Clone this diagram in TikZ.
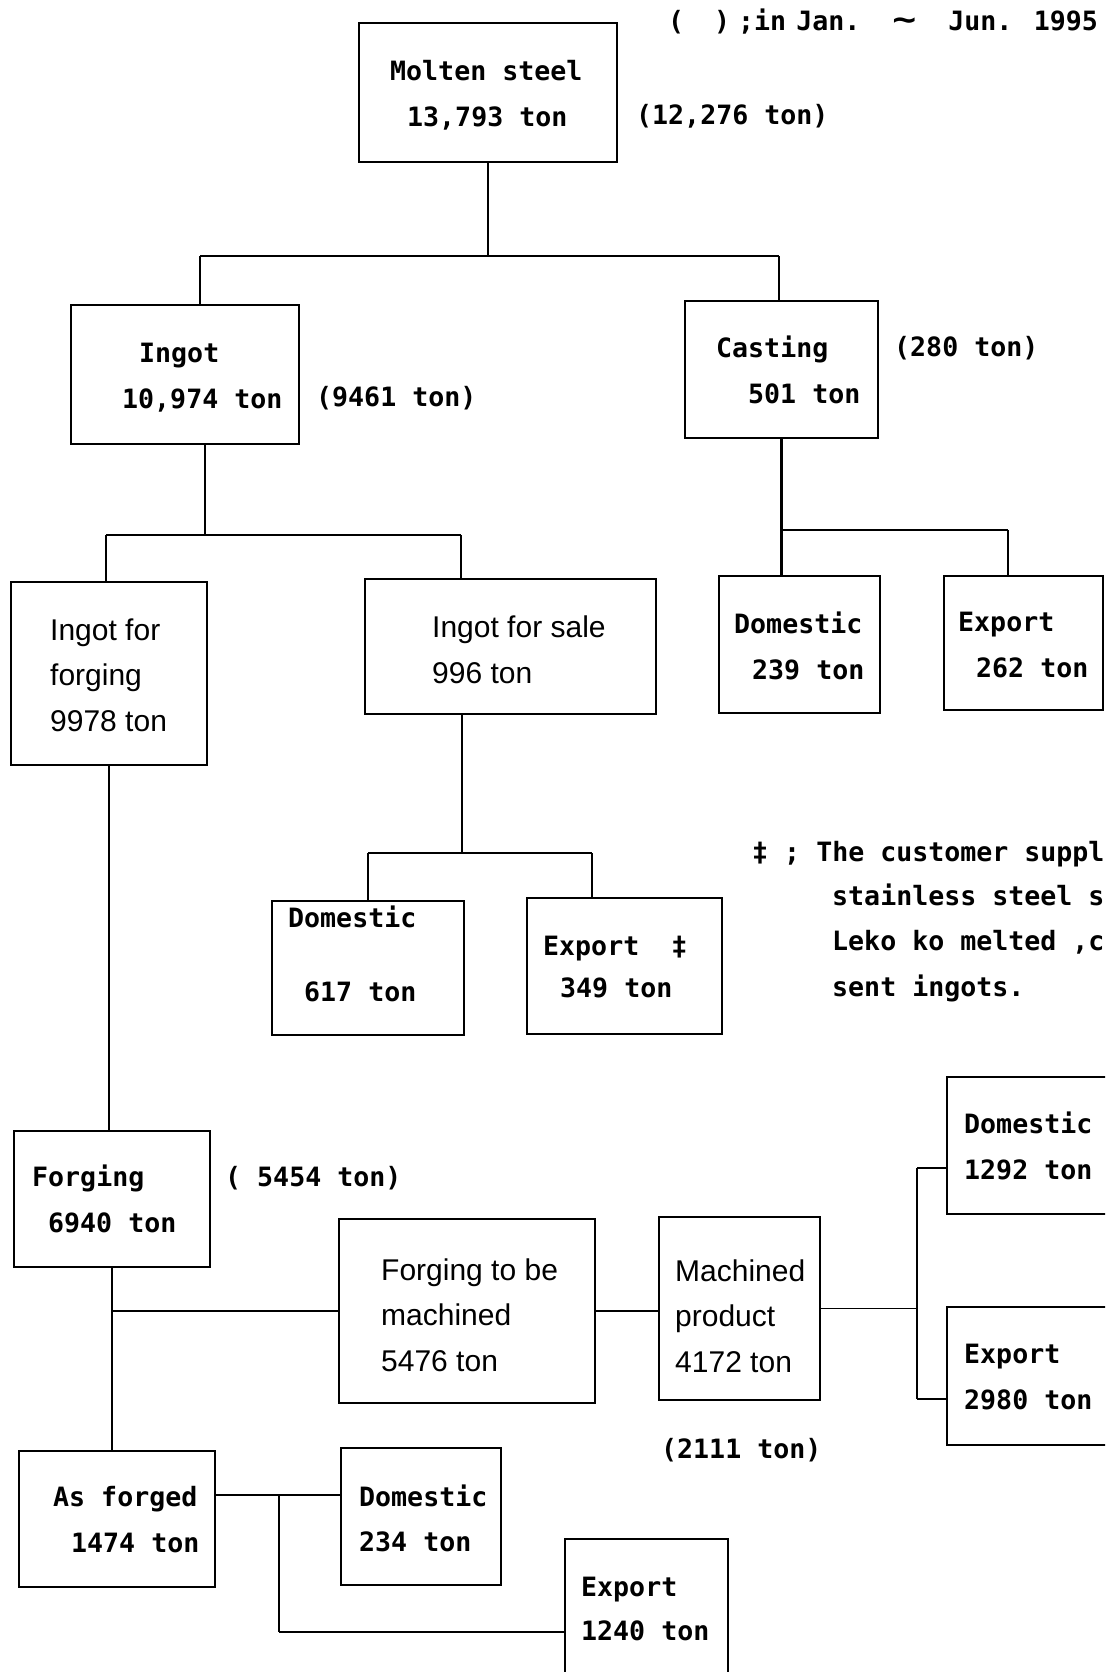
\documentclass[tikz,border=0pt]{standalone}
\usepackage{fontspec}
\usepackage{graphicx}
\usetikzlibrary{fit}
\newfontfamily\typefont{DejaVu Sans Mono}
\newfontfamily\printfont{Liberation Sans}
\tikzset{
  x=1pt, y=-1pt,
  box/.style={draw, line width=2.4pt, inner sep=0pt, rectangle},
  link/.style={line width=2.4pt},
  thin link/.style={line width=1.5pt},
  mono/.style={anchor=base west, inner sep=0pt, font=\typefont\bfseries\fontsize{26.6}{30}\selectfont},
  sans/.style={anchor=base west, inner sep=0pt, font=\printfont\fontsize{30}{36}\selectfont},
}
\begin{document}
\begin{tikzpicture}
\useasboundingbox (0,0) rectangle (1105,1672);
\clip (0,0) rectangle (1105,1672);
\fill[white] (0,0) rectangle (1105,1672);

% ---- boxes ----
\node[box, fit={(359,23) (617,162)}] (molten) {};
\node[box, fit={(71,305) (299,444)}] (ingot) {};
\node[box, fit={(685,301) (878,438)}] (casting) {};
\node[box, fit={(11,582) (207,765)}] (iforge) {};
\node[box, fit={(365,579) (656,714)}] (isale) {};
\node[box, fit={(719,576) (880,713)}] (cdom) {};
\node[box, fit={(944,576) (1103,710)}] (cexp) {};
\node[box, fit={(272,901) (464,1035)}] (sdom) {};
\node[box, fit={(527,898) (722,1034)}] (sexp) {};
\node[box, fit={(14,1131) (210,1267)}] (forging) {};
\node[box, fit={(339,1219) (595,1403)}] (tomach) {};
\node[box, fit={(659,1217) (820,1400)}] (mach) {};
\node[box, fit={(947,1077) (1130,1214)}] (mdom) {};
\node[box, fit={(947,1307) (1130,1445)}] (mexp) {};
\node[box, fit={(19,1451) (215,1587)}] (asf) {};
\node[box, fit={(341,1448) (501,1585)}] (adom) {};
\node[box, fit={(565,1539) (728,1700)}] (aexp) {};

% ---- connectors ----
\coordinate (j-top) at (488,256);
\coordinate (j-ingot) at (200,256);
\coordinate (j-cast) at (779,256);
\draw[link] (molten.south) -- (j-top);
\draw[thin link] (j-ingot) -- (j-cast);
\draw[link] (j-ingot) -- (j-ingot |- ingot.north);
\draw[link] (j-cast) -- (j-cast |- casting.north);

\coordinate (j-ingot-out) at (205,535);
\coordinate (j-iforge) at (106,535);
\coordinate (j-isale) at (461,535);
\draw[link] (j-ingot-out |- ingot.south) -- (j-ingot-out);
\draw[thin link] (j-iforge) -- (j-isale);
\draw[link] (j-iforge) -- (j-iforge |- iforge.north);
\draw[link] (j-isale) -- (j-isale |- isale.north);

\coordinate (j-cexp) at (1008,530);
\draw[link] (casting.south) -- (casting.south |- cdom.north);
\draw[thin link] (casting.south |- j-cexp) -- (j-cexp);
\draw[link] (j-cexp) -- (j-cexp |- cexp.north);

\coordinate (j-isale-out) at (462,853);
\coordinate (j-sdom) at (368,853);
\coordinate (j-sexp) at (592,853);
\draw[link] (j-isale-out |- isale.south) -- (j-isale-out);
\draw[thin link] (j-sdom) -- (j-sexp);
\draw[link] (j-sdom) -- (j-sdom |- sdom.north);
\draw[link] (j-sexp) -- (j-sexp |- sexp.north);

\draw[link] (iforge.south) -- (iforge.south |- forging.north);
\draw[link] (forging.south) -- (forging.south |- asf.north);
\draw[thin link] (forging.south |- tomach.west) -- (tomach.west);
\draw[thin link] (tomach.east) -- (tomach.east -| mach.west);

\coordinate (j-mach) at (917,1308);
\coordinate (j-mdom) at (917,1168);
\coordinate (j-mexp) at (917,1399);
\draw[thin link] (mach.east) -- (mach.east -| j-mach);
\draw[link] (j-mdom) -- (j-mexp);
\draw[thin link] (j-mdom) -- (j-mdom -| mdom.west);
\draw[thin link] (j-mexp) -- (j-mexp -| mexp.west);

\coordinate (j-adom) at (279,1495);
\coordinate (j-aexp) at (279,1632);
\draw[thin link] (j-adom -| asf.east) -- (j-adom -| adom.west);
\draw[link] (j-adom) -- (j-aexp);
\draw[thin link] (j-aexp) -- (j-aexp -| aexp.west);

% ---- texts ----
\node[mono] (t-head) at (668,31) {(\hspace{30pt})\hspace{8pt};in\hspace{10pt}Jan.\ \ \scalebox{1.5}[1.2]{\textasciitilde}\ \ Jun. 1995};
\node[mono] (t-molten-a) at (390,81) {Molten steel};
\node[mono] (t-molten-b) at (407,127) {13,793 ton};
\node[mono] (t-molten-c) at (636,125) {(12,276 ton)};

\node[mono] (t-ingot-a) at (139,362) {Ingot};
\node[mono] (t-ingot-b) at (122,408) {10,974 ton};
\node[mono] (t-ingot-c) at (316,406) {(9461 ton)};

\node[mono] (t-cast-a) at (716,357) {Casting};
\node[mono] (t-cast-b) at (748,403) {501 ton};
\node[mono] (t-cast-c) at (894,356) {(280 ton)};

\node[sans] (t-iforge-a) at (50,640) {Ingot for};
\node[sans] (t-iforge-b) at (50,685) {forging};
\node[sans] (t-iforge-c) at (50,731) {9978 ton};

\node[sans] (t-isale-a) at (432,637) {Ingot for sale};
\node[sans] (t-isale-b) at (432,683) {996 ton};

\node[mono] (t-cdom-a) at (734,633) {Domestic};
\node[mono] (t-cdom-b) at (752,679) {239 ton};
\node[mono] (t-cexp-a) at (958,631) {Export};
\node[mono] (t-cexp-b) at (976,677) {262 ton};

\node[mono] (t-sdom-a) at (288,927) {Domestic};
\node[mono] (t-sdom-b) at (304,1001) {617 ton};
\node[mono] (t-sexp-a) at (543,955) {Export\ \ ‡};
\node[mono] (t-sexp-b) at (560,997) {349 ton};

\node[mono] (t-note-a) at (752,861) {‡ ; The customer suppl};
\node[mono] (t-note-b) at (832,905) {stainless steel s};
\node[mono] (t-note-c) at (832,950) {Leko ko melted ,c};
\node[mono] (t-note-d) at (832,996) {sent ingots.};

\node[mono] (t-forging-a) at (32,1186) {Forging};
\node[mono] (t-forging-b) at (48,1232) {6940 ton};
\node[mono] (t-forging-c) at (225,1186) {( 5454 ton)};

\node[sans] (t-tomach-a) at (381,1280) {Forging to be};
\node[sans] (t-tomach-b) at (381,1325) {machined};
\node[sans] (t-tomach-c) at (381,1371) {5476 ton};

\node[sans] (t-mach-a) at (675,1281) {Machined};
\node[sans] (t-mach-b) at (675,1326) {product};
\node[sans] (t-mach-c) at (675,1372) {4172 ton};
\node[mono] (t-mach-d) at (661,1458) {(2111 ton)};

\node[mono] (t-mdom-a) at (964,1133) {Domestic};
\node[mono] (t-mdom-b) at (964,1179) {1292 ton};
\node[mono] (t-mexp-a) at (964,1363) {Export};
\node[mono] (t-mexp-b) at (964,1409) {2980 ton};

\node[mono] (t-asf-a) at (53,1506) {As forged};
\node[mono] (t-asf-b) at (71,1552) {1474 ton};
\node[mono] (t-adom-a) at (359,1506) {Domestic};
\node[mono] (t-adom-b) at (359,1551) {234 ton};
\node[mono] (t-aexp-a) at (581,1596) {Export};
\node[mono] (t-aexp-b) at (581,1640) {1240 ton};
\end{tikzpicture}
\end{document}
